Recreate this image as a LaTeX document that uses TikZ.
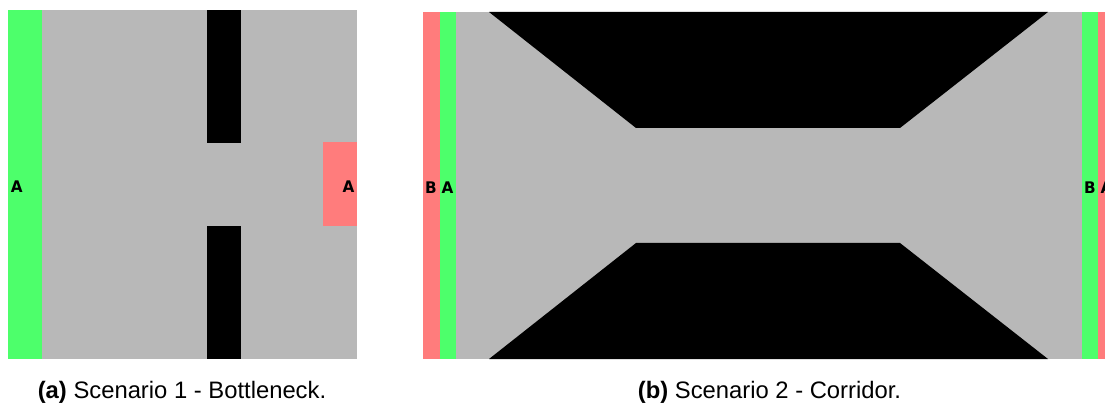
\documentclass[tikz,border=0pt]{standalone}
\usepackage{fontspec}
\setmainfont{Liberation Sans}
\newfontfamily\maplabel{DejaVu Sans}[FakeStretch=0.95]
\definecolor{floorgray}{RGB}{184,184,184}
\definecolor{goalgreen}{RGB}{77,255,107}
\definecolor{goalred}{RGB}{255,124,124}
\tikzset{
  area/.style={fill=#1,draw=none},
  zonelabel/.style={inner sep=0pt,font=\maplabel\bfseries\fontsize{16}{16}\selectfont,text=black},
  capt/.style={inner sep=0pt,anchor=base,font=\fontsize{23.8}{26}\selectfont,text=black}
}
\begin{document}
\begin{tikzpicture}[x=1pt,y=-1pt]
\useasboundingbox (0,0) rectangle (1105,403);
\clip (0,0) rectangle (1105,403);
% Scenario 1
\fill[area=floorgray] (8,10) rectangle (357,359);
\fill[area=goalgreen] (8,10) rectangle (42,359);
\fill[area=goalred] (323,142) rectangle (357,226);
\fill[area=black] (207,10) rectangle (241,143);
\fill[area=black] (207,226) rectangle (241,359);
\node[zonelabel] (a1) at (16.8,187) {A};
\node[zonelabel] (a2) at (348.5,187) {A};
% Scenario 2
\fill[area=floorgray] (456,12) rectangle (1082,359);
\fill[area=goalred] (423,12) rectangle (440,359);
\fill[area=goalgreen] (440,12) rectangle (456,359);
\fill[area=goalgreen] (1082,12) rectangle (1098,359);
\fill[area=goalred] (1098,12) rectangle (1105,359);
\fill[area=black] (489,12) -- (1048,12) -- (900,128) -- (636,128) -- cycle;
\fill[area=black] (636,243) -- (900,243) -- (1048,359) -- (489,359) -- cycle;
\node[zonelabel] (b1) at (431,188) {B};
\node[zonelabel] (a3) at (447.5,188) {A};
\node[zonelabel] (b2) at (1090,188) {B};
\node[zonelabel] (a4) at (1106.5,188) {A};
% Captions
\node[capt] (c1) at (182,398) {\textbf{(a)} Scenario 1 - Bottleneck.};
\node[capt] (c2) at (769.5,398) {\textbf{(b)} Scenario 2 - Corridor.};
\end{tikzpicture}
\end{document}
